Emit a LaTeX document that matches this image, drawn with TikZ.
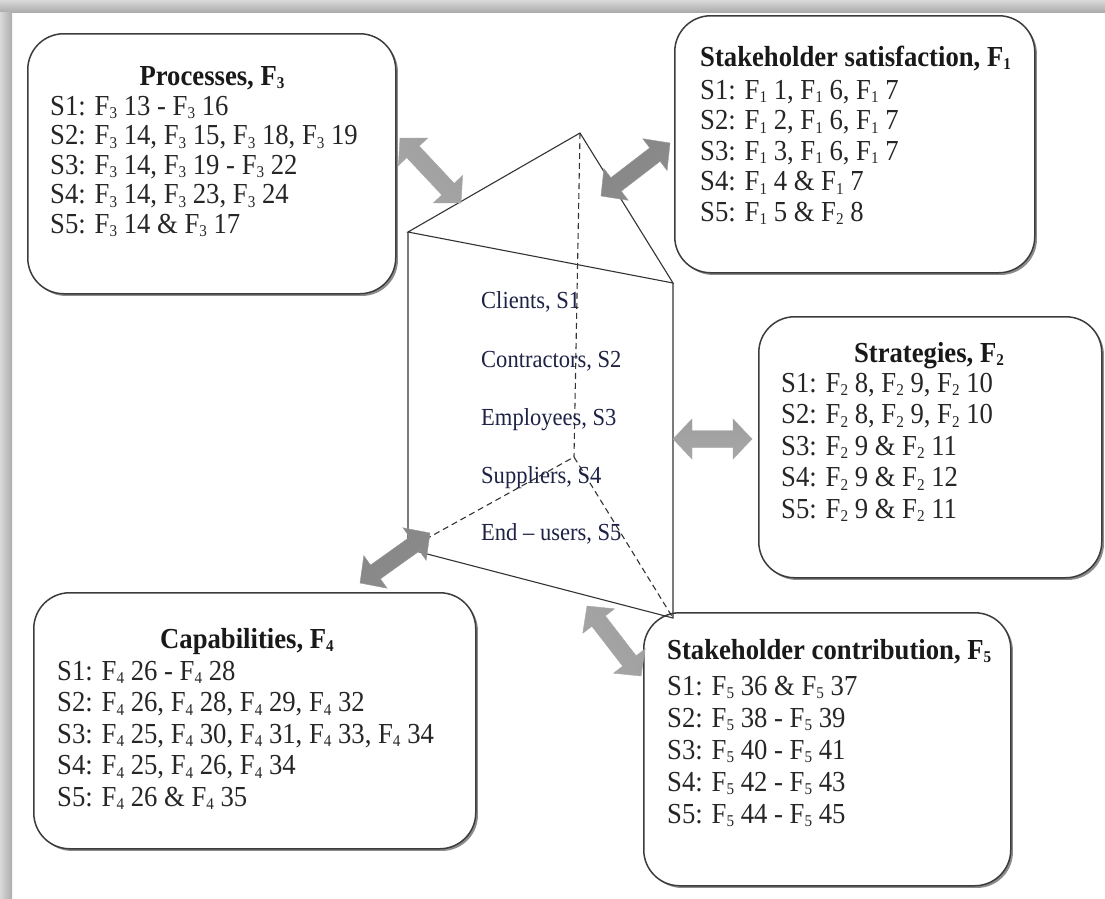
\documentclass[tikz,border=0pt]{standalone}
\usepackage{fontspec}
\newfontfamily\diagfont{Liberation Serif}[FakeStretch=0.92]
\usetikzlibrary{calc,shadows}

% factor symbol with a small lowered index
\newcommand\Fx[1]{F\raisebox{-3.5pt}{\fontsize{16.5}{17}\selectfont #1}}

% block double arrow between two points, shaded across its width
\newcommand\twoway[4]{%
  \shade[#3, shading angle=#4] (#1)
    -- ($(#1)!19pt!(#2)!20pt!90:(#2)$)
    -- ($(#1)!19pt!(#2)!8.5pt!90:(#2)$)
    -- ($(#2)!19pt!(#1)!8.5pt!-90:(#1)$)
    -- ($(#2)!19pt!(#1)!20pt!-90:(#1)$)
    -- (#2)
    -- ($(#2)!19pt!(#1)!20pt!90:(#1)$)
    -- ($(#2)!19pt!(#1)!8.5pt!90:(#1)$)
    -- ($(#1)!19pt!(#2)!8.5pt!-90:(#2)$)
    -- ($(#1)!19pt!(#2)!20pt!-90:(#2)$)
    -- cycle;}

\definecolor{inkblue}{RGB}{30,35,70}
\definecolor{boxline}{RGB}{60,60,60}

\tikzset{
  factorbox/.style={draw=boxline, line width=1.5pt, fill=white,
    rounded corners=36pt, inner sep=0pt,
    drop shadow={shadow xshift=2.2pt, shadow yshift=-2.2pt, fill=black!45, opacity=1}},
  boxtitle/.style={font=\diagfont\fontsize{29}{32}\selectfont\bfseries, text=black!90, inner sep=0pt},
  boxrow/.style={font=\diagfont\fontsize{29}{32}\selectfont, text=black!85, inner sep=0pt, anchor=base west},
  prismtext/.style={font=\diagfont\fontsize{24.5}{27}\selectfont, text=inkblue, inner sep=0pt, anchor=base west},
  edge/.style={draw=black!80, line width=1.1pt},
  hidden/.style={draw=black!80, line width=1.1pt, dash pattern=on 6pt off 4pt},
  lightarrow/.style={draw=gray!70, line width=0.4pt, top color=gray!75, middle color=gray!30, bottom color=gray!70},
  darkarrow/.style={draw=gray!80, line width=0.4pt, top color=gray!95, middle color=gray!45, bottom color=gray!90}
}

\begin{document}
\begin{tikzpicture}[x=1pt, y=-1pt]
  % page with its shadow along the top and left edges
  \fill[white] (0,0) rectangle (1105,898);
  \useasboundingbox (0,0) rectangle (1105,898);
  \shade[top color=gray!30, bottom color=gray!65] (0,0) rectangle (1105,12);
  \shade[left color=gray!30, right color=gray!65] (0,12) rectangle (12,898);

  % factor boxes
  \node[factorbox, anchor=north west, minimum width=368pt, minimum height=260pt] (proc) at (27,33) {};
  \node[factorbox, anchor=north west, minimum width=360pt, minimum height=257pt] (sat) at (674,15) {};
  \node[factorbox, anchor=north west, minimum width=343pt, minimum height=261pt] (strat) at (758,316) {};
  \node[factorbox, anchor=north west, minimum width=442pt, minimum height=256pt] (cap) at (33,592) {};
  \node[factorbox, anchor=north west, minimum width=367pt, minimum height=273pt] (contr) at (643,612) {};

  % Processes
  \node[boxtitle, anchor=base] (proc-t) at (212,85) {Processes, \Fx{3}};
  \foreach \r [count=\i] in {
      {S1: \Fx{3} 13 - \Fx{3} 16},
      {S2: \Fx{3} 14, \Fx{3} 15, \Fx{3} 18, \Fx{3} 19},
      {S3: \Fx{3} 14, \Fx{3} 19 - \Fx{3} 22},
      {S4: \Fx{3} 14, \Fx{3} 23, \Fx{3} 24},
      {S5: \Fx{3} 14 \& \Fx{3} 17}}
    \node[boxrow] (proc-\i) at (50,{115+29.5*(\i-1)}) {\r};

  % Stakeholder satisfaction
  \node[boxtitle, anchor=base west] (sat-t) at (700,66) {Stakeholder satisfaction, \Fx{1}};
  \foreach \r [count=\i] in {
      {S1: \Fx{1} 1, \Fx{1} 6, \Fx{1} 7},
      {S2: \Fx{1} 2, \Fx{1} 6, \Fx{1} 7},
      {S3: \Fx{1} 3, \Fx{1} 6, \Fx{1} 7},
      {S4: \Fx{1} 4 \& \Fx{1} 7},
      {S5: \Fx{1} 5 \& \Fx{2} 8}}
    \node[boxrow] (sat-\i) at (700,{99+30.5*(\i-1)}) {\r};

  % Strategies
  \node[boxtitle, anchor=base] (strat-t) at (929,362) {Strategies, \Fx{2}};
  \foreach \r [count=\i] in {
      {S1: \Fx{2} 8, \Fx{2} 9, \Fx{2} 10},
      {S2: \Fx{2} 8, \Fx{2} 9, \Fx{2} 10},
      {S3: \Fx{2} 9 \& \Fx{2} 11},
      {S4: \Fx{2} 9 \& \Fx{2} 12},
      {S5: \Fx{2} 9 \& \Fx{2} 11}}
    \node[boxrow] (strat-\i) at (781,{392+31.5*(\i-1)}) {\r};

  % Capabilities
  \node[boxtitle, anchor=base] (cap-t) at (247,648) {Capabilities, \Fx{4}};
  \foreach \r [count=\i] in {
      {S1: \Fx{4} 26 - \Fx{4} 28},
      {S2: \Fx{4} 26, \Fx{4} 28, \Fx{4} 29, \Fx{4} 32},
      {S3: \Fx{4} 25, \Fx{4} 30, \Fx{4} 31, \Fx{4} 33, \Fx{4} 34},
      {S4: \Fx{4} 25, \Fx{4} 26, \Fx{4} 34},
      {S5: \Fx{4} 26 \& \Fx{4} 35}}
    \node[boxrow] (cap-\i) at (57,{680+31.5*(\i-1)}) {\r};

  % Stakeholder contribution
  \node[boxtitle, anchor=base west] (contr-t) at (667,659) {Stakeholder contribution, \Fx{5}};
  \foreach \r [count=\i] in {
      {S1: \Fx{5} 36 \& \Fx{5} 37},
      {S2: \Fx{5} 38 - \Fx{5} 39},
      {S3: \Fx{5} 40 - \Fx{5} 41},
      {S4: \Fx{5} 42 - \Fx{5} 43},
      {S5: \Fx{5} 44 - \Fx{5} 45}}
    \node[boxrow] (contr-\i) at (667,{695+32*(\i-1)}) {\r};

  % triangular prism of stakeholders
  \coordinate (apex) at (580,133);
  \coordinate (tl) at (408,232);
  \coordinate (tr) at (673,283);
  \coordinate (bl) at (408,549);
  \coordinate (br) at (673,618);
  \coordinate (back) at (574,457);
  \draw[edge] (tl) -- (apex) -- (tr) -- cycle;
  \draw[edge] (tl) -- (bl) -- (br) -- (tr);
  \draw[hidden] (apex) -- (back);
  \draw[hidden] (bl) -- (back) -- (br);

  \node[prismtext] (s1) at (481,308) {Clients, S1};
  \node[prismtext] (s2) at (481,367) {Contractors, S2};
  \node[prismtext] (s3) at (481,425) {Employees, S3};
  \node[prismtext] (s4) at (481,483) {Suppliers, S4};
  \node[prismtext] (s5) at (481,540) {End – users, S5};

  % links between the prism and the factor boxes
  \coordinate (a1p) at (400,138);  \coordinate (a1q) at (461,203);
  \coordinate (a2p) at (601,196);  \coordinate (a2q) at (670,143);
  \coordinate (a3p) at (673,439);  \coordinate (a3q) at (752,439);
  \coordinate (a4p) at (360,583);  \coordinate (a4q) at (430,533);
  \coordinate (a5p) at (587,606);  \coordinate (a5q) at (641,676);
  \twoway{a1p}{a1q}{lightarrow}{-47}
  \twoway{a2p}{a2q}{darkarrow}{37}
  \twoway{a3p}{a3q}{lightarrow}{0}
  \twoway{a4p}{a4q}{darkarrow}{35}
  \twoway{a5p}{a5q}{lightarrow}{-52}
\end{tikzpicture}
\end{document}
